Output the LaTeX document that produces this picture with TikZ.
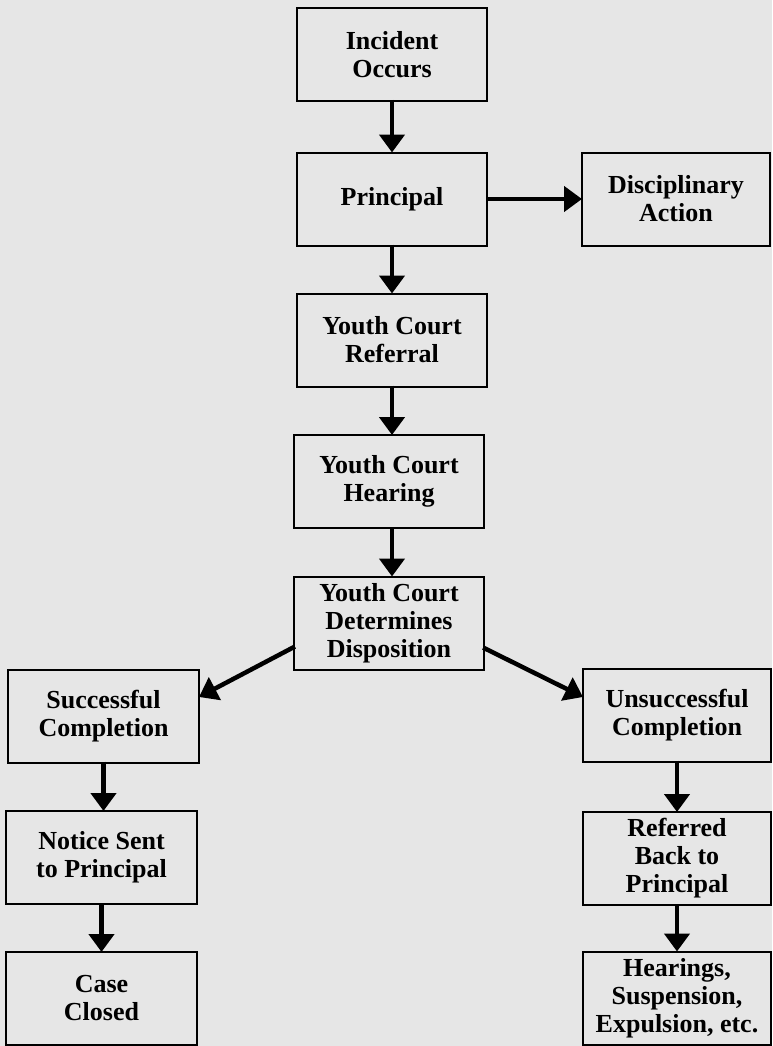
\documentclass[tikz,border=0pt]{standalone}
\usepackage{fontspec}
\setmainfont{Liberation Serif}
\usetikzlibrary{arrows.meta}
\definecolor{bg}{RGB}{230,230,230}
\tikzset{
  box/.style={draw=black, line width=2pt, fill=bg, minimum width=#1, minimum height=93pt,
    inner sep=0pt, outer sep=0pt, align=center,
    font=\fontsize{26}{28}\selectfont\bfseries},
  box/.default=190pt,
  conn/.style={line width=4.5pt, -{Triangle[length=18pt,width=25pt]}, shorten <=-1pt}
}
\begin{document}
\begin{tikzpicture}[x=1pt,y=-1pt]
\fill[bg] (0,0) rectangle (772,1046);
\useasboundingbox (0,0) rectangle (772,1046);
\node[box] (inc) at (392,54.5) {Incident\\Occurs};
\node[box] (prin) at (392,199) {Principal};
\node[box=188pt] (disc) at (676,199) {Disciplinary\\Action};
\node[box] (ref) at (392,340) {Youth Court\\Referral};
\node[box] (hear) at (389,481.5) {Youth Court\\Hearing};
\node[box] (det) at (389,623) {Youth Court\\Determines\\Disposition};
\node[box=191pt] (succ) at (103.5,716) {Successful\\Completion};
\node[box=188pt] (unsucc) at (677,715) {Unsuccessful\\Completion};
\node[box=191pt] (notice) at (101.5,857.5) {Notice Sent\\to Principal};
\node[box=188pt] (back) at (677,858.5) {Referred\\Back to\\Principal};
\node[box=191pt] (closed) at (101.5,998.5) {Case\\Closed};
\node[box=188pt] (hearings) at (677,998) {Hearings,\\Suspension,\\Expulsion, etc.};

\draw[conn] (inc.south) -- (prin.north);
\draw[conn] (prin.east) -- (disc.west);
\draw[conn] (prin.south) -- (ref.north);
\draw[conn] ([xshift=3pt]hear.north |- ref.south) -- ([xshift=3pt]hear.north);
\draw[conn] ([xshift=3pt]hear.south) -- ([xshift=3pt]det.north);
\draw[conn] ([yshift=-24pt]det.west) -- ([yshift=19pt]succ.east);
\draw[conn] ([yshift=-25pt]det.east) -- ([yshift=18pt]unsucc.west);
\draw[conn] (succ.south) -- (succ.south |- notice.north);
\draw[conn] (notice.south) -- (closed.south |- closed.north);
\draw[conn] (unsucc.south) -- (back.north);
\draw[conn] (back.south) -- (hearings.north);
\end{tikzpicture}
\end{document}
